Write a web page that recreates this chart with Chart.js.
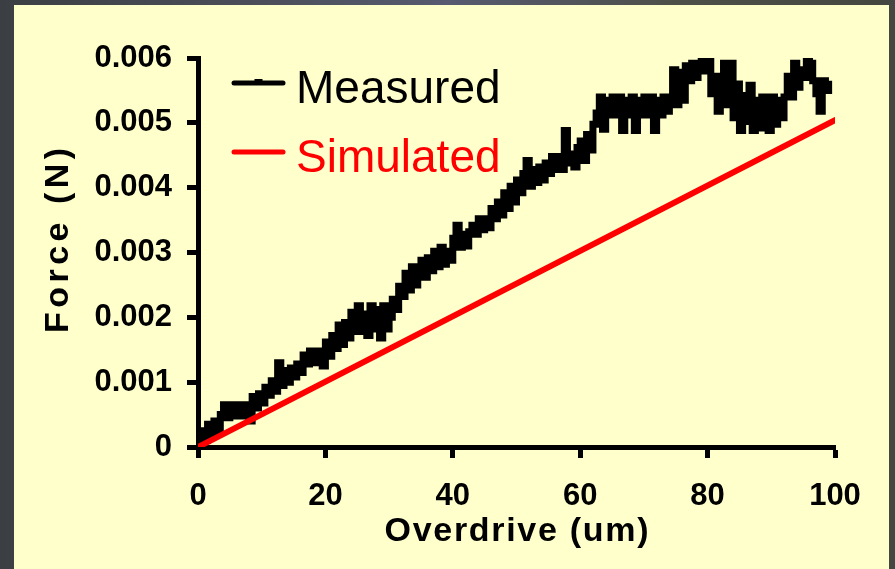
<!DOCTYPE html>
<html>
<head>
<meta charset="utf-8">
<script src="https://cdn.jsdelivr.net/npm/chart.js@4.4.1/dist/chart.umd.min.js"></script>
<style>
  html, body { margin: 0; padding: 0; }
  body {
    width: 895px; height: 569px; overflow: hidden;
    background: linear-gradient(90deg, #3b3f43 0%, #4c4f5a 30%, #575a70 50%, #4d5049 75%, #44473f 100%);
  }
  #wrap { position: relative; width: 895px; height: 569px; }
  canvas { display: block; }
</style>
</head>
<body>
<div id="wrap"><canvas id="chart" width="895" height="569"></canvas></div>
<script>
// Measured force trace, one sample every 0.5 um of overdrive, starting at 0 um (N)
const measuredStep = 0.5;
const measuredForce = [
  0.00000, 0.00025, 0.00010, 0.00035, 0.00020, 0.00040, 0.00025, 0.00050, 0.00065, 0.00045,
  0.00065, 0.00048, 0.00065, 0.00048, 0.00062, 0.00065, 0.00040, 0.00078, 0.00060, 0.00082,
  0.00068, 0.00092, 0.00080, 0.00102, 0.00086, 0.00130, 0.00095, 0.00118, 0.00100, 0.00122,
  0.00108, 0.00128, 0.00115, 0.00142, 0.00128, 0.00148, 0.00130, 0.00148, 0.00135, 0.00125,
  0.00162, 0.00140, 0.00172, 0.00152, 0.00188, 0.00158, 0.00192, 0.00168, 0.00208, 0.00178,
  0.00218, 0.00178, 0.00205, 0.00172, 0.00218, 0.00182, 0.00212, 0.00168, 0.00218, 0.00182,
  0.00200, 0.00228, 0.00212, 0.00248, 0.00232, 0.00268, 0.00242, 0.00278, 0.00250, 0.00272,
  0.00288, 0.00262, 0.00292, 0.00272, 0.00302, 0.00278, 0.00308, 0.00282, 0.00302, 0.00288,
  0.00322, 0.00342, 0.00308, 0.00328, 0.00310, 0.00332, 0.00342, 0.00328, 0.00352, 0.00335,
  0.00352, 0.00338, 0.00368, 0.00352, 0.00378, 0.00358, 0.00392, 0.00368, 0.00402, 0.00378,
  0.00412, 0.00392, 0.00422, 0.00442, 0.00402, 0.00428, 0.00408, 0.00432, 0.00412, 0.00438,
  0.00422, 0.00448, 0.00428, 0.00448, 0.00428, 0.00488, 0.00438, 0.00452, 0.00432, 0.00462,
  0.00472, 0.00442, 0.00482, 0.00458, 0.00498, 0.00515, 0.00540, 0.00490, 0.00535, 0.00512,
  0.00540, 0.00512, 0.00540, 0.00488, 0.00535, 0.00512, 0.00540, 0.00488, 0.00535, 0.00512,
  0.00540, 0.00512, 0.00540, 0.00488, 0.00535, 0.00512, 0.00540, 0.00518, 0.00540, 0.00582,
  0.00528, 0.00578, 0.00535, 0.00588, 0.00565, 0.00592, 0.00570, 0.00588, 0.00602, 0.00580,
  0.00602, 0.00545, 0.00572, 0.00518, 0.00562, 0.00592, 0.00528, 0.00592, 0.00508, 0.00560,
  0.00488, 0.00542, 0.00502, 0.00558, 0.00488, 0.00535, 0.00492, 0.00540, 0.00502, 0.00488,
  0.00540, 0.00498, 0.00535, 0.00508, 0.00540, 0.00572, 0.00540, 0.00592, 0.00555, 0.00582,
  0.00570, 0.00602, 0.00592, 0.00565, 0.00545, 0.00518, 0.00565, 0.00550, 0.00565
];

// Simulated response: straight line through the origin
const simulatedOverdrive = [0, 100];
const simulatedForce = [0, 0.00504];

// Axis ticks and titles
const overdriveTicks = [0, 20, 40, 60, 80, 100];
const forceTicks = [0, 0.001, 0.002, 0.003, 0.004, 0.005, 0.006];
const overdriveTitle = 'Overdrive (um)';
const forceTitle = 'Force (N)';

const FONT = "'Liberation Sans', Arial, Helvetica, sans-serif";

const measuredPoints = measuredForce.map((f, i) => ({ x: i * measuredStep, y: f }));
const simulatedPoints = simulatedOverdrive.map((x, i) => ({ x: x, y: simulatedForce[i] }));

// Pale yellow panel behind the plot
const panelBackground = {
  id: 'panelBackground',
  beforeDraw(chart, args, opts) {
    const ctx = chart.ctx;
    ctx.save();
    ctx.fillStyle = opts.color;
    ctx.fillRect(opts.left, opts.top, opts.right - opts.left, opts.bottom - opts.top);
    ctx.restore();
  }
};

// Letter-spaced axis titles, centred on their axes
const axisTitles = {
  id: 'axisTitles',
  afterDraw(chart, args, opts) {
    const ctx = chart.ctx;
    const xs = chart.scales.x, ys = chart.scales.y;
    ctx.save();
    ctx.fillStyle = '#000';
    ctx.font = opts.font;
    ctx.textAlign = 'center';
    ctx.textBaseline = 'alphabetic';
    ctx.letterSpacing = opts.xSpacing + 'px';
    ctx.fillText(opts.xText, (xs.left + xs.right) / 2 + opts.xSpacing / 2, opts.xBaseline);
    ctx.translate(opts.yBaseline, (ys.top + ys.bottom) / 2 + opts.yShift);
    ctx.rotate(-Math.PI / 2);
    ctx.letterSpacing = opts.ySpacing + 'px';
    ctx.fillText(opts.yText, opts.ySpacing / 2, 0);
    ctx.restore();
  }
};

// Legend drawn inside the plot, top-left, one row per dataset
const insetLegend = {
  id: 'insetLegend',
  afterDraw(chart, args, opts) {
    const ctx = chart.ctx;
    ctx.save();
    chart.data.datasets.forEach((ds, i) => {
      const y = opts.top + i * opts.rowGap;
      ctx.strokeStyle = ds.borderColor;
      ctx.lineWidth = opts.lineWidth;
      ctx.lineCap = 'round';
      ctx.beginPath();
      ctx.moveTo(opts.left, y);
      ctx.lineTo(opts.left + opts.lineLength, y);
      ctx.stroke();
      if (ds.legendTick) {
        ctx.fillStyle = ds.borderColor;
        ctx.fillRect(opts.left + opts.lineLength / 2 - 4, y - 4, 8, 4);
      }
      ctx.fillStyle = ds.borderColor;
      ctx.font = opts.font;
      ctx.textBaseline = 'alphabetic';
      ctx.textAlign = 'left';
      ctx.fillText(ds.label, opts.textLeft, y + opts.baselineOffset);
    });
    ctx.restore();
  }
};

const tickFont = { family: FONT, size: 31, weight: 'bold' };

new Chart(document.getElementById('chart'), {
  type: 'line',
  data: {
    datasets: [
      {
        label: 'Measured',
        data: measuredPoints,
        borderColor: '#000000',
        backgroundColor: '#000000',
        borderWidth: 7,
        stepped: true,
        pointRadius: 0,
        fill: false,
        legendTick: true,
        order: 1
      },
      {
        label: 'Simulated',
        data: simulatedPoints,
        borderColor: '#ff0000',
        backgroundColor: '#ff0000',
        borderWidth: 6,
        borderCapStyle: 'round',
        pointRadius: 0,
        fill: false,
        order: 0
      }
    ]
  },
  options: {
    responsive: false,
    animation: false,
    events: [],
    layout: { padding: { top: 58, right: 60, left: 0, bottom: 0 } },
    plugins: {
      legend: { display: false },
      tooltip: { enabled: false },
      panelBackground: { color: '#ffffcc', left: 14, top: 5, right: 889, bottom: 569 },
      axisTitles: {
        font: "bold 34px " + FONT,
        xText: overdriveTitle, xSpacing: 1.7, xBaseline: 541,
        yText: forceTitle, ySpacing: 4.5, yBaseline: 68, yShift: -12
      },
      insetLegend: {
        left: 234, lineLength: 49, lineWidth: 5, textLeft: 296,
        top: 83, rowGap: 69, baselineOffset: 20,
        font: "46px " + FONT
      }
    },
    scales: {
      x: {
        type: 'linear',
        min: 0, max: 100,
        afterBuildTicks: (scale) => { scale.ticks = overdriveTicks.map(v => ({ value: v })); },
        afterFit: (scale) => { scale.height = 122; },
        ticks: { font: tickFont, color: '#000', padding: 20, maxRotation: 0 },
        grid: { drawOnChartArea: false, drawTicks: true, tickLength: 11, tickWidth: 5, tickColor: '#000' },
        border: { display: true, width: 5, color: '#000' },
        title: { display: false }
      },
      y: {
        type: 'linear',
        min: 0, max: 0.006,
        afterBuildTicks: (scale) => { scale.ticks = forceTicks.map(v => ({ value: v })); },
        afterFit: (scale) => { scale.width = 198; },
        ticks: {
          font: tickFont, color: '#000', padding: 15,
          callback: (v) => (v === 0 ? '0' : v.toFixed(3))
        },
        grid: { drawOnChartArea: false, drawTicks: true, tickLength: 11, tickWidth: 5, tickColor: '#000' },
        border: { display: true, width: 5, color: '#000' },
        title: { display: false }
      }
    }
  },
  plugins: [panelBackground, axisTitles, insetLegend]
});
</script>
</body>
</html>
